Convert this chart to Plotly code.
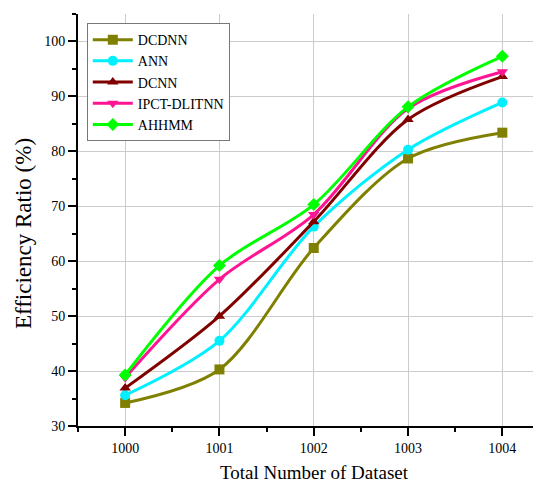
import plotly.graph_objects as go

datasets = [1000, 1001, 1002, 1003, 1004]
series_names = ["DCDNN", "ANN", "DCNN", "IPCT-DLITNN", "AHHMM"]
dcdnn = [34.2, 40.3, 62.4, 78.7, 83.4]
ann = [35.6, 45.5, 66.3, 80.3, 88.9]
dcnn = [36.9, 50.0, 67.2, 85.8, 93.6]
ipct = [38.8, 56.7, 68.5, 87.8, 94.5]
ahhmm = [39.3, 59.2, 70.3, 88.1, 97.3]
y_ticks = [30, 40, 50, 60, 70, 80, 90, 100]
x_title = "Total Number of Dataset"
y_title = "Efficiency Ratio (%)"

colors = ["#808000", "#00F0FF", "#800000", "#FF1493", "#00FF00"]
symbols = ["square", "circle", "triangle-up", "triangle-down", "diamond"]
values = [dcdnn, ann, dcnn, ipct, ahhmm]

fig = go.Figure()
for name, vals, c, s in zip(series_names, values, colors, symbols):
    fig.add_trace(go.Scatter(
        x=datasets, y=vals, name=name, mode="lines+markers",
        line=dict(color=c, width=3, shape="spline", smoothing=0.9),
        marker=dict(symbol=s, size=10, color=c),
    ))

font_family = "Liberation Serif, Times New Roman, serif"
fig.update_layout(
    width=541, height=486,
    margin=dict(l=70, r=8, t=6, b=68, autoexpand=False),
    paper_bgcolor="white", plot_bgcolor="white",
    font=dict(family=font_family, size=14, color="black"),
    legend=dict(
        x=0.019, y=0.978, xanchor="left", yanchor="top",
        bgcolor="white", bordercolor="#777777", borderwidth=1,
        font=dict(family=font_family, size=14, color="black"),
        tracegroupgap=0, itemwidth=40,
    ),
    xaxis=dict(
        range=[999.5, 1004.41], tickvals=datasets,
        ticktext=[str(d) for d in datasets],
        showline=True, linecolor="black", linewidth=2,
        ticks="outside", ticklen=8, tickwidth=2, tickcolor="black",
        showgrid=True, gridcolor="#CCCCCC", gridwidth=1,
        zeroline=False, automargin=False,
        minor=dict(ticks="outside", ticklen=4, tickwidth=2, tickcolor="black",
                   dtick=0.5, tick0=999.5, showgrid=False),
        tickfont=dict(size=14),
    ),
    yaxis=dict(
        range=[30, 105], tickvals=y_ticks,
        showline=True, linecolor="black", linewidth=2,
        ticks="outside", ticklen=8, tickwidth=2, tickcolor="black",
        showgrid=True, gridcolor="#CCCCCC", gridwidth=1,
        zeroline=False, automargin=False,
        minor=dict(ticks="outside", ticklen=4, tickwidth=2, tickcolor="black",
                   dtick=5, tick0=30, showgrid=False),
        tickfont=dict(size=14),
    ),
    annotations=[
        dict(text=x_title, xref="paper", yref="paper", x=0.51, y=-0.112,
             xanchor="center", yanchor="middle", showarrow=False,
             font=dict(size=19)),
        dict(text=y_title, xref="paper", yref="paper", x=-0.119, y=0.468,
             xanchor="center", yanchor="middle", showarrow=False, textangle=-90,
             font=dict(size=23)),
    ],
)

fig.write_html("out.html")
